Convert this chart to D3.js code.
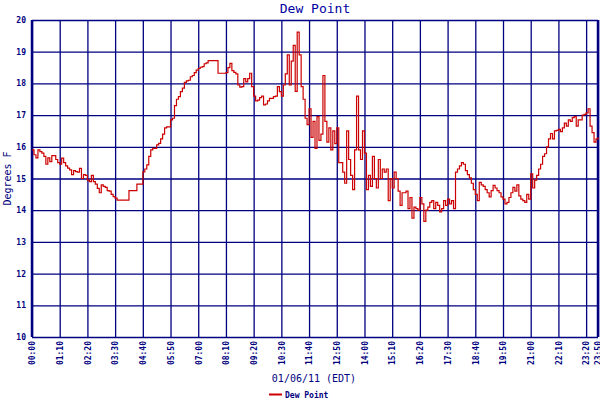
<!DOCTYPE html>
<html>
<head>
<meta charset="utf-8">
<script src="https://cdn.jsdelivr.net/npm/d3@7"></script>
<style>
  html, body { margin: 0; padding: 0; background: #ffffff; }
  svg { display: block; }
</style>
</head>
<body>
<svg id="chart" width="600" height="400"></svg>
<script>
// ---- data ----
const chartTitle = "Dew Point";
const yAxisTitle = "Degrees F";
const xAxisTitle = "01/06/11 (EDT)";
const seriesName = "Dew Point";

// sample interval (minutes) of the dew point readings, starting at 00:00
const sampleStepMinutes = 5;

// dew point readings (°F), one every 5 minutes, 00:00 .. 23:50
const dewPoint = [
  15.9, 15.75, 15.65, 15.9, 15.85, 15.8, 15.7, 15.45, 15.65, 15.53,
  15.72, 15.72, 15.6, 15.5, 15.45, 15.64, 15.5, 15.4, 15.33, 15.27,
  15.12, 15.25, 15.22, 15.2, 15.32, 15.0, 15.12, 15.1, 14.95, 14.9,
  15.1, 14.9, 14.82, 14.69, 14.55, 14.8, 14.75, 14.72, 14.62, 14.6,
  14.5, 14.43, 14.38, 14.32, 14.32, 14.32, 14.32, 14.32, 14.32, 14.62,
  14.62, 14.62, 14.62, 14.82, 14.82, 14.82, 15.21, 15.3, 15.43, 15.7,
  15.9, 15.95, 15.95, 16.06, 16.11, 16.25, 16.4, 16.6, 16.63, 16.63,
  16.85, 16.9, 17.3, 17.5, 17.58, 17.74, 17.85, 18.03, 18.08, 18.1,
  18.21, 18.25, 18.34, 18.42, 18.47, 18.51, 18.53, 18.62, 18.65, 18.72,
  18.72, 18.72, 18.72, 18.72, 18.32, 18.32, 18.32, 18.32, 18.34, 18.5,
  18.63, 18.4, 18.35, 18.3, 17.95, 17.88, 17.9, 18.15, 18.05, 18.15,
  18.32, 17.9, 17.6, 17.45, 17.47, 17.55, 17.6, 17.32, 17.35, 17.45,
  17.53, 17.53, 17.58, 17.6, 17.9, 17.74, 17.6, 17.95, 18.3, 18.9,
  17.95, 18.7, 19.2, 17.75, 19.62, 18.9, 17.9, 17.5, 16.9, 16.7,
  17.2, 16.3, 16.8, 15.95, 16.95, 16.2, 16.4, 18.25, 16.8, 16.15,
  16.6, 15.9, 16.5, 16.1, 16.6, 15.5, 15.5, 15.2, 14.85, 16.5,
  15.6, 15.1, 14.65, 15.9, 17.6, 15.9, 15.6, 16.5, 15.8, 14.65,
  15.1, 14.75, 15.7, 15.0, 14.7, 15.6, 15.0, 15.3, 15.2, 15.3,
  14.3, 15.0, 14.7, 15.2, 15.0, 14.6, 14.15, 14.55, 14.55, 14.6,
  14.05, 14.4, 13.75, 14.1, 14.05, 14.0, 14.4, 14.2, 13.65, 14.0,
  14.1, 14.25, 14.3, 14.05, 14.25, 14.15, 13.95, 14.05, 14.3, 14.15,
  14.35, 14.2, 14.3, 14.05, 15.2, 15.3, 15.4, 15.5, 15.45, 15.25,
  15.12, 15.02, 14.85, 14.65, 14.5, 14.3, 14.88, 14.8, 14.75, 14.65,
  14.55, 14.42, 14.62, 14.78, 14.7, 14.62, 14.55, 14.42, 14.35, 14.2,
  14.25, 14.4, 14.55, 14.72, 14.6, 14.8, 14.45, 14.35, 14.3, 14.25,
  14.5, 14.35, 15.15, 14.7, 14.95, 15.1, 15.3, 15.45, 15.7, 15.78,
  16.0, 16.25, 16.42, 16.25, 16.5, 16.52, 16.55, 16.48, 16.6, 16.75,
  16.65, 16.85, 16.8, 16.92, 16.95, 16.65, 16.85, 16.85, 17.0, 17.02,
  17.07, 17.2, 16.65, 16.45, 16.15, 16.25, 16.3
];

const xTickMinutes = [0, 70, 140, 210, 280, 350, 420, 490, 560, 630, 700,
                      770, 840, 910, 980, 1050, 1120, 1190, 1260, 1330, 1400, 1430];
const xTickLabels = ["00:00", "01:10", "02:20", "03:30", "04:40", "05:50", "07:00",
                     "08:10", "09:20", "10:30", "11:40", "12:50", "14:00", "15:10",
                     "16:20", "17:30", "18:40", "19:50", "21:00", "22:10", "23:20", "23:50"];
const yTicks = [10, 11, 12, 13, 14, 15, 16, 17, 18, 19, 20];

// ---- drawing ----
const navy = "#000080";
const lineRed = "#cc0000";
const mono = "'DejaVu Sans Mono', 'Liberation Mono', monospace";

const plotLeft = 32, plotRight = 598, plotTop = 20, plotBottom = 337;
const svg = d3.select("#chart");

const x = d3.scaleLinear().domain([0, 1430]).range([plotLeft, plotRight]);
const y = d3.scaleLinear().domain([10, 20]).range([plotBottom, plotTop]);

const points = dewPoint.map((v, i) => ({ t: i * sampleStepMinutes, v }));

// Y axis with gridlines
const yAxis = d3.axisLeft(y)
  .tickValues(yTicks)
  .tickFormat(d3.format("d"))
  .tickSize(-(plotRight - plotLeft))
  .tickPadding(6);

const gy = svg.append("g")
  .attr("transform", `translate(${plotLeft},0)`)
  .call(yAxis);
gy.select(".domain").remove();
gy.selectAll(".tick line")
  .attr("stroke", navy)
  .attr("stroke-width", 1.3);
gy.selectAll(".tick text")
  .attr("fill", navy)
  .style("font-family", mono)
  .style("font-size", "8px")
  .style("font-weight", "bold");

// X axis with gridlines
const xAxis = d3.axisBottom(x)
  .tickValues(xTickMinutes)
  .tickFormat((d, i) => xTickLabels[i])
  .tickSize(-(plotBottom - plotTop));

const gx = svg.append("g")
  .attr("transform", `translate(0,${plotBottom})`)
  .call(xAxis);
gx.select(".domain").remove();
gx.selectAll(".tick line")
  .attr("stroke", navy)
  .attr("stroke-width", 1.3);
gx.selectAll(".tick text")
  .attr("fill", navy)
  .style("font-family", mono)
  .style("font-size", "8px")
  .style("font-weight", "bold")
  .attr("transform", "rotate(-90)")
  .attr("x", -4)
  .attr("y", 0)
  .attr("dy", "0.35em")
  .attr("text-anchor", "end");

// heavy left/right frame lines
svg.append("line")
  .attr("x1", x(0)).attr("x2", x(0))
  .attr("y1", plotTop).attr("y2", plotBottom)
  .attr("stroke", navy).attr("stroke-width", 2.5);
svg.append("line")
  .attr("x1", x(1430)).attr("x2", x(1430))
  .attr("y1", plotTop).attr("y2", plotBottom)
  .attr("stroke", navy).attr("stroke-width", 2.5);

// data line
const line = d3.line()
  .x(d => x(d.t))
  .y(d => y(d.v))
  .curve(d3.curveStepAfter);

svg.append("path")
  .datum(points)
  .attr("fill", "none")
  .attr("stroke", lineRed)
  .attr("stroke-width", 1.2)
  .attr("d", line);

// titles
svg.append("text")
  .attr("x", 315).attr("y", 13)
  .attr("text-anchor", "middle")
  .attr("fill", "#0000a0")
  .style("font-family", mono)
  .style("font-size", "13px")
  .text(chartTitle);

svg.append("text")
  .attr("transform", `translate(11,${(plotTop + plotBottom) / 2}) rotate(-90)`)
  .attr("text-anchor", "middle")
  .attr("fill", navy)
  .style("font-family", mono)
  .style("font-size", "10px")
  .text(yAxisTitle);

svg.append("text")
  .attr("x", 314).attr("y", 382)
  .attr("text-anchor", "middle")
  .attr("fill", navy)
  .style("font-family", mono)
  .style("font-size", "10px")
  .text(xAxisTitle);

// legend
svg.append("line")
  .attr("x1", 269).attr("x2", 282)
  .attr("y1", 394.5).attr("y2", 394.5)
  .attr("stroke", lineRed).attr("stroke-width", 2);
svg.append("text")
  .attr("x", 285).attr("y", 397.5)
  .attr("fill", navy)
  .style("font-family", mono)
  .style("font-size", "8px")
  .style("font-weight", "bold")
  .text(seriesName);
</script>
</body>
</html>
